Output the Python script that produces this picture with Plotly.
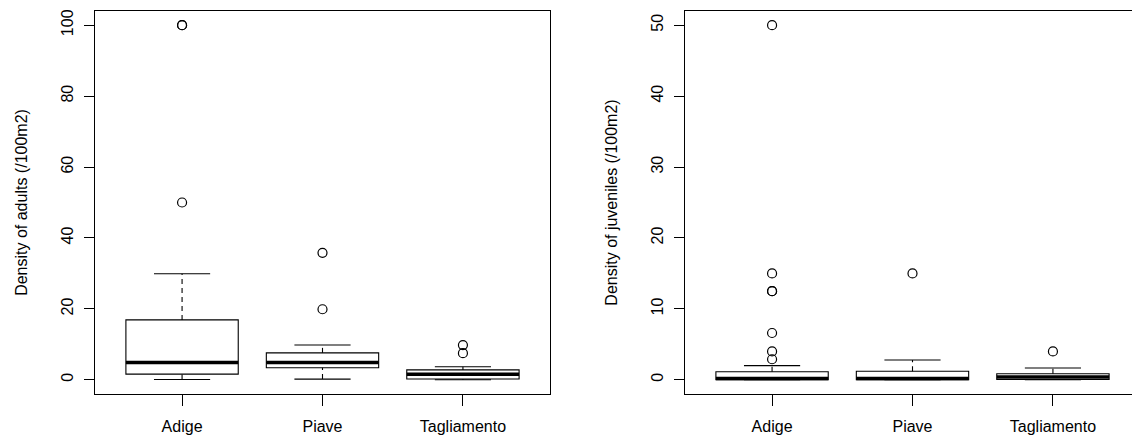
import plotly.graph_objects as go
from plotly.subplots import make_subplots

categories = ["Adige", "Piave", "Tagliamento"]
positions = [1, 2, 3]

# Adults density (/100m2)
adult_low = [0.1, 0.2, 0.0]
adult_q1 = [1.6, 3.4, 0.25]
adult_median = [4.9, 4.9, 1.55]
adult_q3 = [16.9, 7.6, 2.8]
adult_high = [29.9, 9.8, 3.7]
adult_out_x = ["Adige", "Adige", "Adige", "Piave", "Piave", "Tagliamento", "Tagliamento"]
adult_out_y = [50.0, 100.0, 100.0, 19.9, 35.8, 7.5, 9.8]

# Juveniles density (/100m2)
juv_low = [0.0, 0.0, 0.0]
juv_q1 = [0.0, 0.0, 0.05]
juv_median = [0.2, 0.2, 0.4]
juv_q3 = [1.14, 1.2, 0.86]
juv_high = [2.0, 2.8, 1.66]
juv_out_x = ["Adige", "Adige", "Adige", "Adige", "Adige", "Adige", "Adige", "Piave", "Tagliamento"]
juv_out_y = [2.9, 4.0, 6.6, 12.5, 12.5, 15.0, 50.0, 15.0, 4.0]

adult_ticks = [0, 20, 40, 60, 80, 100]
juv_ticks = [0, 10, 20, 30, 40, 50]

FONT = "Liberation Sans, Arial, sans-serif"
BOX_W = 0.8
STAPLE_HALF = 0.2
pos_of = dict(zip(categories, positions))

fig = make_subplots(rows=1, cols=2)


def add_panel(col, low, q1, med, q3, high, ox, oy):
    fig.add_trace(go.Box(
        x=positions, q1=q1, median=med, q3=q3, lowerfence=q1, upperfence=q3,
        width=BOX_W, fillcolor="white", line=dict(color="black", width=1.1),
        whiskerwidth=0, boxpoints=False, showlegend=False, hoverinfo="skip"),
        row=1, col=col)
    wx, wy, sx, sy, mx, my = [], [], [], [], [], []
    for p, lo, a, m, b, hi in zip(positions, low, q1, med, q3, high):
        wx += [p, p, None, p, p, None]
        wy += [b, hi, None, lo, a, None]
        sx += [p - STAPLE_HALF, p + STAPLE_HALF, None, p - STAPLE_HALF, p + STAPLE_HALF, None]
        sy += [hi, hi, None, lo, lo, None]
        mx += [p - BOX_W / 2, p + BOX_W / 2, None]
        my += [m, m, None]
    fig.add_trace(go.Scatter(x=wx, y=wy, mode="lines",
                             line=dict(color="black", width=1.1, dash="5px,4px"),
                             showlegend=False, hoverinfo="skip"), row=1, col=col)
    fig.add_trace(go.Scatter(x=sx, y=sy, mode="lines",
                             line=dict(color="black", width=1.1),
                             showlegend=False, hoverinfo="skip"), row=1, col=col)
    fig.add_trace(go.Scatter(x=mx, y=my, mode="lines",
                             line=dict(color="black", width=3.5),
                             showlegend=False, hoverinfo="skip"), row=1, col=col)
    fig.add_trace(go.Scatter(x=[pos_of[c] for c in ox], y=oy, mode="markers",
                             marker=dict(symbol="circle-open", size=9, color="black",
                                         line=dict(width=1.2, color="black")),
                             showlegend=False, hoverinfo="skip"), row=1, col=col)


add_panel(1, adult_low, adult_q1, adult_median, adult_q3, adult_high, adult_out_x, adult_out_y)
add_panel(2, juv_low, juv_q1, juv_median, juv_q3, juv_high, juv_out_x, juv_out_y)

W, H = 1132, 438
spacing = 455 / 3.24
x2_right = 0.38 + (W - 685) / spacing

axis_common = dict(showgrid=False, zeroline=False, ticks="outside", tickcolor="black",
                   linecolor="black", linewidth=1, showline=True,
                   tickfont=dict(family=FONT, size=16, color="black"))

fig.update_layout(
    width=W, height=H, margin=dict(l=0, r=0, t=11, b=44),
    paper_bgcolor="white", plot_bgcolor="white",
    font=dict(family=FONT, size=16, color="black"),
    showlegend=False,
    xaxis=dict(domain=[95 / W, 550 / W], range=[0.38, 3.62], tickvals=positions,
               ticktext=categories, ticklen=11, mirror=True, ticklabelstandoff=7,
               **axis_common),
    xaxis2=dict(domain=[685 / W, 1.0], range=[0.38, x2_right], tickvals=positions,
                ticktext=categories, ticklen=11, mirror=True, ticklabelstandoff=7,
                **axis_common),
    yaxis=dict(range=[-4, 104], tickvals=adult_ticks, ticklen=10, tickangle=-90,
               mirror=True, ticklabelstandoff=5,
               title=dict(text="Density of adults (/100m2)", standoff=26,
                          font=dict(family=FONT, size=16, color="black")),
               **axis_common),
    yaxis2=dict(range=[-2, 52], tickvals=juv_ticks, ticklen=10, tickangle=-90,
                mirror=False, ticklabelstandoff=5,
                title=dict(text="Density of juveniles (/100m2)", standoff=26,
                           font=dict(family=FONT, size=16, color="black")),
                **axis_common),
)

fig.write_html("out.html")
